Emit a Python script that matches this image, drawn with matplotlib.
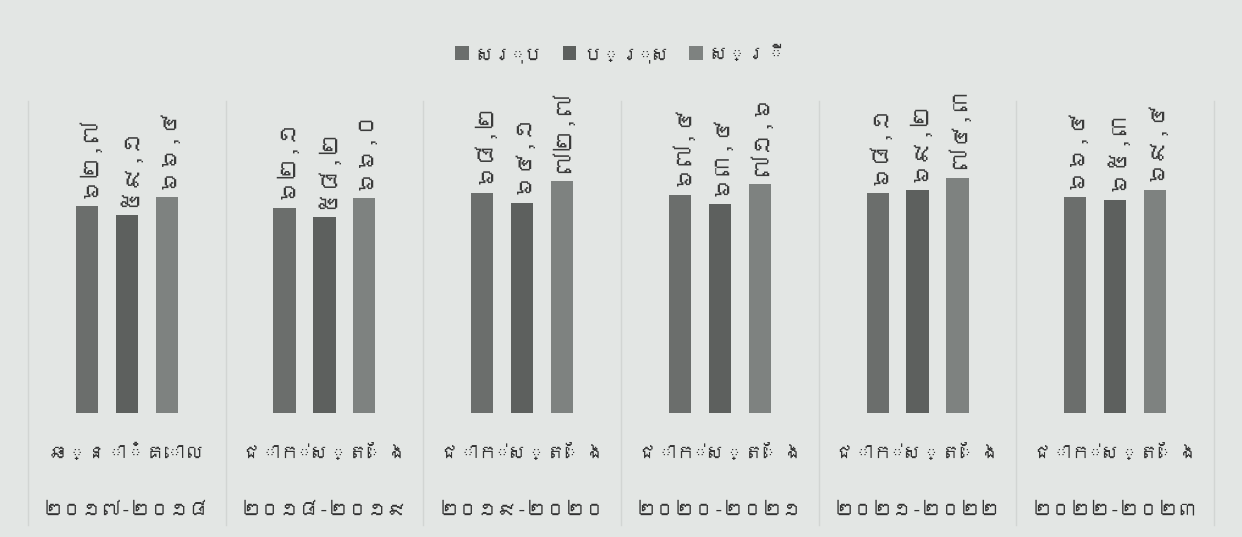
import matplotlib
matplotlib.use("Agg")
import matplotlib.pyplot as plt
import numpy as np
from matplotlib import font_manager
from matplotlib.ft2font import FT2Font

# data (per cent)
categories = ["ឆ្នាំគោល", "ជាក់ស្តែង", "ជាក់ស្តែង", "ជាក់ស្តែង", "ជាក់ស្តែង", "ជាក់ស្តែង"]
years = ["២០១៧-២០១៨", "២០១៨-២០១៩", "២០១៩-២០២០", "២០២០-២០២១", "២០២១-២០២២", "២០២២-២០២៣"]
series_names = ["សរុប", "ប្រុស", "ស្រី"]
total = [62.7, 62.1, 68.2, 67.4, 68.1, 66.4]
male = [59.1, 58.2, 64.1, 63.4, 69.2, 65.3]
female = [66.4, 66.0, 72.7, 71.6, 74.3, 69.4]

colors = ["#6b6e6c", "#5d605e", "#7e8280"]
bg = "#e3e6e4"
KHMER_DIGITS = "០១២៣៤៥៦៧៨៩"


def find_khmer_font():
    # look for any installed font that covers the Khmer block
    for path in font_manager.findSystemFonts():
        try:
            if 0x1780 in FT2Font(path).get_charmap():
                return font_manager.FontProperties(fname=path).get_name()
        except Exception:
            continue
    return None


def to_khmer(v):
    s = f"{v:.1f}".replace(".", ",")
    return "".join(KHMER_DIGITS[int(c)] if c.isdigit() else c for c in s)


kh = find_khmer_font()
families = ([kh] if kh else []) + ["DejaVu Sans"]
plt.rcParams["font.family"] = families

fig = plt.figure(figsize=(12.42, 5.37), dpi=100)
fig.patch.set_facecolor(bg)
ax = fig.add_axes([0.0225, 0.231, 0.955, 0.564])
ax.set_facecolor(bg)

BASE = -21.0
x = np.arange(len(years))
offsets = [-0.202, 0.0, 0.202]
width = 0.112

for vals, off, col, name in zip([total, male, female], offsets, colors, series_names):
    vals = np.array(vals)
    bars = ax.bar(x + off, vals - BASE, width, bottom=BASE, color=col, label=name)
    for b, v in zip(bars, vals):
        ax.annotate(to_khmer(v), (b.get_x() + b.get_width() / 2, v),
                    xytext=(0, 6), textcoords="offset points",
                    rotation=90, ha="center", va="bottom",
                    fontsize=17, fontweight="bold", color="#3a3a3a")

ax.set_xlim(-0.5, len(years) - 0.5)
ax.set_ylim(BASE, 101.6)
ax.set_xticks([])
ax.set_yticks([])
for s in ax.spines.values():
    s.set_visible(False)

# faint category separators
trans = ax.get_xaxis_transform()
for b in np.arange(-0.5, len(years), 1.0):
    ax.plot([b, b], [-0.37, 1.03], transform=trans, color="#d2d5d3",
            lw=1.0, clip_on=False, zorder=0)

for i in range(len(years)):
    ax.text(i, -0.13, categories[i], transform=trans, ha="center", va="center",
            fontsize=14, color="#333333")
    ax.text(i, -0.32, years[i], transform=trans, ha="center", va="center",
            fontsize=14, fontweight="bold", color="#333333")

fig.legend(loc="center", bbox_to_anchor=(0.5, 0.9), ncol=3, frameon=False,
           fontsize=14, handlelength=0.7, handleheight=0.7, handletextpad=0.3,
           columnspacing=1.0, labelcolor="#333333")

fig.savefig("out.png", dpi=100, facecolor=bg)
